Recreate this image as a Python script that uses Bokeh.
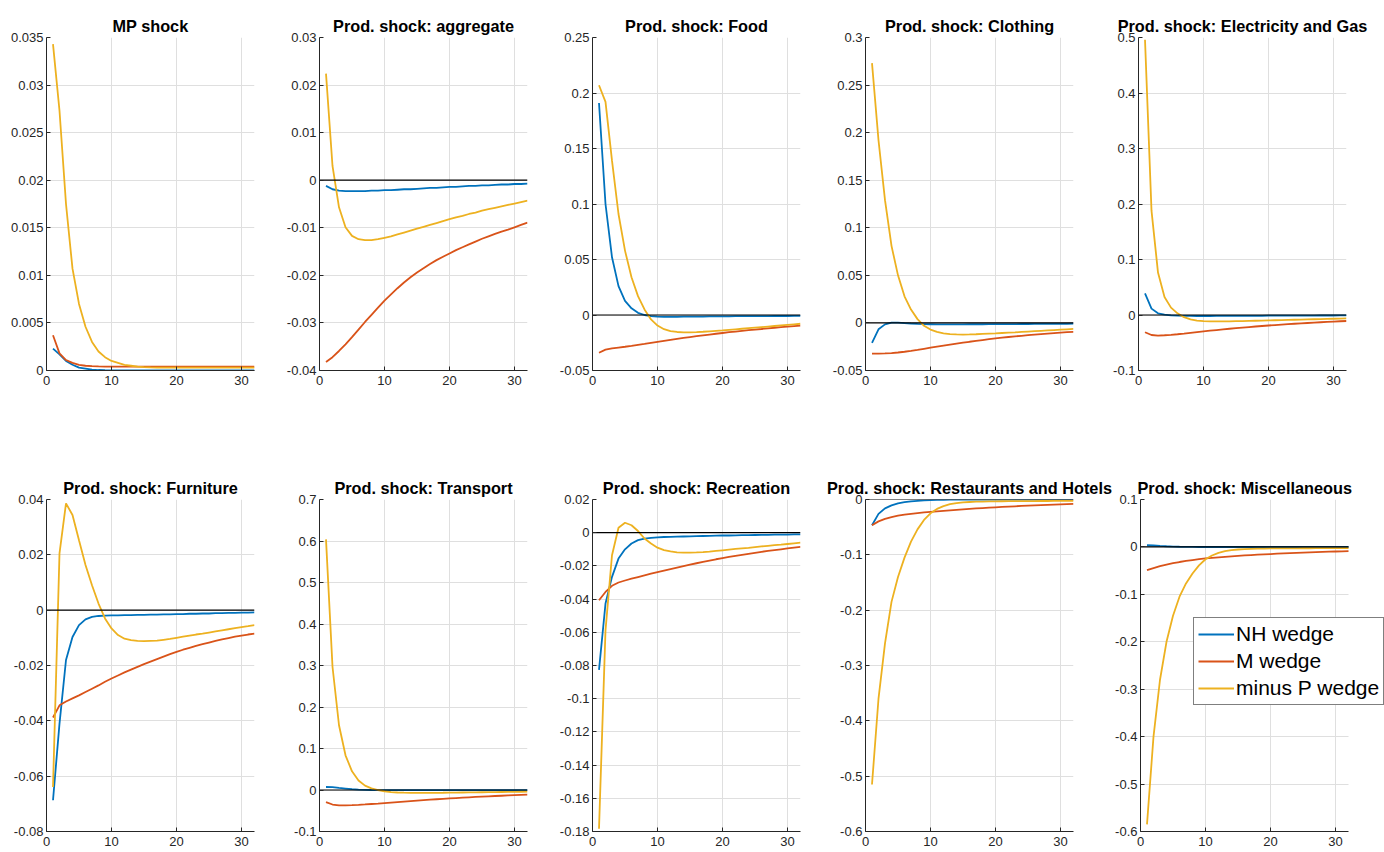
from bokeh.plotting import figure
from bokeh.layouts import column, row
from bokeh.models import (Range1d, FixedTicker, CustomJSTickFormatter,
                          Legend, LegendItem)
from bokeh.embed import file_html
from bokeh.resources import INLINE

# ---------------- data ----------------
periods = list(range(1, 33))
x_limits = [0, 32]
x_ticks = [0, 10, 20, 30]
series_names = ["NH wedge", "M wedge", "minus P wedge"]
titles = ["MP shock", "Prod. shock: aggregate", "Prod. shock: Food",
          "Prod. shock: Clothing", "Prod. shock: Electricity and Gas",
          "Prod. shock: Furniture", "Prod. shock: Transport",
          "Prod. shock: Recreation", "Prod. shock: Restaurants and Hotels",
          "Prod. shock: Miscellaneous"]

y_limits = [(0, 0.035), (-0.04, 0.03), (-0.05, 0.25), (-0.05, 0.3), (-0.1, 0.5),
            (-0.08, 0.04), (-0.1, 0.7), (-0.18, 0.02), (-0.6, 0.0), (-0.6, 0.1)]
y_ticks = [
    [0, 0.005, 0.01, 0.015, 0.02, 0.025, 0.03, 0.035],
    [-0.04, -0.03, -0.02, -0.01, 0, 0.01, 0.02, 0.03],
    [-0.05, 0, 0.05, 0.1, 0.15, 0.2, 0.25],
    [-0.05, 0, 0.05, 0.1, 0.15, 0.2, 0.25, 0.3],
    [-0.1, 0, 0.1, 0.2, 0.3, 0.4, 0.5],
    [-0.08, -0.06, -0.04, -0.02, 0, 0.02, 0.04],
    [-0.1, 0, 0.1, 0.2, 0.3, 0.4, 0.5, 0.6, 0.7],
    [-0.18, -0.16, -0.14, -0.12, -0.1, -0.08, -0.06, -0.04, -0.02, 0, 0.02],
    [-0.6, -0.5, -0.4, -0.3, -0.2, -0.1, 0],
    [-0.6, -0.5, -0.4, -0.3, -0.2, -0.1, 0, 0.1],
]

# MP shock
nh_mp = [0.0023, 0.0017, 0.0010, 0.0006, 0.0003, 0.0002, 0.0001, 0.00005,
         0.00003, 0.00002, 0.00001, 0.0, 0.0, 0.0, 0.0, 0.0,
         0.0, 0.0, 0.0, 0.0, 0.0, 0.0, 0.0, 0.0,
         0.0, 0.0, 0.0, 0.0, 0.0, 0.0, 0.0, 0.0]
m_mp = [0.0037, 0.0018, 0.0011, 0.0008, 0.0006, 0.0005, 0.00046, 0.00043,
        0.00041, 0.0004, 0.0004, 0.0004, 0.0004, 0.0004, 0.0004, 0.0004,
        0.0004, 0.0004, 0.0004, 0.0004, 0.0004, 0.0004, 0.0004, 0.0004,
        0.0004, 0.0004, 0.0004, 0.0004, 0.0004, 0.0004, 0.0004, 0.0004]
p_mp = [0.0343, 0.0273, 0.0175, 0.0107, 0.0070, 0.0046, 0.0030, 0.0020,
        0.0014, 0.0010, 0.0008, 0.0006, 0.0005, 0.0004, 0.00035, 0.00032,
        0.0003, 0.0003, 0.0003, 0.0003, 0.0003, 0.0003, 0.0003, 0.0003,
        0.0003, 0.0003, 0.0003, 0.0003, 0.0003, 0.0003, 0.0003, 0.0003]

# aggregate
nh_agg = [-0.0012, -0.0019, -0.0022, -0.0023, -0.0023, -0.0023, -0.0023, -0.0022,
          -0.0022, -0.0021, -0.0021, -0.0020, -0.0019, -0.0019, -0.0018, -0.0017,
          -0.0016, -0.0016, -0.0015, -0.0014, -0.0014, -0.0013, -0.0012, -0.0012,
          -0.0011, -0.0011, -0.0010, -0.0009, -0.0009, -0.0008, -0.0008, -0.0007]
m_agg = [-0.0382, -0.0372, -0.0359, -0.0345, -0.0330, -0.0314, -0.0298, -0.0283,
         -0.0268, -0.0253, -0.0240, -0.0227, -0.0215, -0.0204, -0.0194, -0.0185,
         -0.0176, -0.0168, -0.0161, -0.0154, -0.0147, -0.0141, -0.0135, -0.0129,
         -0.0123, -0.0118, -0.0113, -0.0108, -0.0104, -0.0099, -0.0094, -0.0089]
p_agg = [0.0224, 0.0030, -0.0057, -0.0099, -0.0117, -0.0124, -0.0126, -0.0126,
         -0.0124, -0.0121, -0.0118, -0.0114, -0.0110, -0.0106, -0.0102, -0.0098,
         -0.0094, -0.0090, -0.0086, -0.0082, -0.0078, -0.0075, -0.0071, -0.0068,
         -0.0064, -0.0061, -0.0058, -0.0055, -0.0052, -0.0049, -0.0046, -0.0043]

# Food
nh_food = [0.191, 0.100, 0.052, 0.026, 0.0127, 0.006, 0.002, 0.0,
           -0.001, -0.0015, -0.0016, -0.0016, -0.0016, -0.0015, -0.0015, -0.0014,
           -0.0014, -0.0013, -0.0013, -0.0012, -0.0012, -0.0011, -0.0011, -0.0011,
           -0.0010, -0.0010, -0.0010, -0.0009, -0.0009, -0.0009, -0.0008, -0.0008]
m_food = [-0.0340, -0.0312, -0.0300, -0.0293, -0.0286, -0.0278, -0.0269, -0.0261,
          -0.0252, -0.0243, -0.0234, -0.0225, -0.0216, -0.0207, -0.0199, -0.0191,
          -0.0183, -0.0176, -0.0169, -0.0162, -0.0155, -0.0149, -0.0143, -0.0137,
          -0.0131, -0.0126, -0.0120, -0.0115, -0.0110, -0.0105, -0.0100, -0.0095]
p_food = [0.207, 0.192, 0.139, 0.091, 0.058, 0.034, 0.017, 0.005,
          -0.004, -0.0095, -0.0128, -0.0145, -0.0153, -0.0156, -0.0156, -0.0154,
          -0.0151, -0.0147, -0.0143, -0.0139, -0.0134, -0.0129, -0.0124, -0.0119,
          -0.0114, -0.0109, -0.0104, -0.0099, -0.0094, -0.0089, -0.0084, -0.0079]

# Clothing
nh_cloth = [-0.021, -0.0067, -0.0015, 0.0004, 0.0003, -0.0003, -0.0008, -0.0011,
            -0.0013, -0.0014, -0.0015, -0.0015, -0.0015, -0.0015, -0.0015, -0.0014,
            -0.0014, -0.0014, -0.0013, -0.0013, -0.0012, -0.0012, -0.0012, -0.0011,
            -0.0011, -0.0010, -0.0010, -0.0010, -0.0009, -0.0009, -0.0009, -0.0008]
m_cloth = [-0.0323, -0.0323, -0.0321, -0.0317, -0.0311, -0.0303, -0.0294, -0.0284,
           -0.0272, -0.0260, -0.0248, -0.0238, -0.0228, -0.0218, -0.0208, -0.0198,
           -0.0189, -0.0180, -0.0171, -0.0162, -0.0155, -0.0148, -0.0141, -0.0135,
           -0.0129, -0.0123, -0.0117, -0.0112, -0.0107, -0.0102, -0.0097, -0.0093]
p_cloth = [0.273, 0.192, 0.129, 0.081, 0.050, 0.028, 0.014, 0.004,
           -0.003, -0.007, -0.0095, -0.0110, -0.0118, -0.0121, -0.0122, -0.0121,
           -0.0119, -0.0116, -0.0113, -0.0110, -0.0106, -0.0102, -0.0099, -0.0095,
           -0.0091, -0.0087, -0.0083, -0.0079, -0.0075, -0.0071, -0.0067, -0.0063]

# Electricity and Gas
nh_elec = [0.039, 0.0115, 0.003, 0.0005, -0.0008, -0.0013, -0.0016, -0.0017,
           -0.0018, -0.0018, -0.0018, -0.0017, -0.0017, -0.0016, -0.0016, -0.0015,
           -0.0015, -0.0014, -0.0014, -0.0013, -0.0013, -0.0012, -0.0012, -0.0011,
           -0.0011, -0.0010, -0.0010, -0.0009, -0.0009, -0.0009, -0.0008, -0.0008]
m_elec = [-0.0310, -0.0360, -0.0370, -0.0365, -0.0357, -0.0347, -0.0335, -0.0322,
          -0.0309, -0.0296, -0.0283, -0.0271, -0.0259, -0.0248, -0.0237, -0.0227,
          -0.0217, -0.0207, -0.0198, -0.0189, -0.0181, -0.0173, -0.0165, -0.0158,
          -0.0151, -0.0144, -0.0137, -0.0131, -0.0125, -0.0119, -0.0113, -0.0108]
p_elec = [0.496, 0.188, 0.0765, 0.0325, 0.0133, 0.003, -0.004, -0.0080,
          -0.0100, -0.0110, -0.0115, -0.0116, -0.0115, -0.0114, -0.0112, -0.0110,
          -0.0107, -0.0104, -0.0101, -0.0098, -0.0095, -0.0092, -0.0089, -0.0086,
          -0.0083, -0.0080, -0.0077, -0.0074, -0.0071, -0.0068, -0.0065, -0.0062]

# Furniture
nh_furn = [-0.0687, -0.0410, -0.0180, -0.0097, -0.0054, -0.0033, -0.0024, -0.0021,
           -0.0020, -0.0019, -0.0019, -0.0018, -0.0018, -0.0017, -0.0017, -0.0016,
           -0.0016, -0.0015, -0.0015, -0.0014, -0.0014, -0.0013, -0.0013, -0.0012,
           -0.0012, -0.0011, -0.0011, -0.0010, -0.0010, -0.0009, -0.0009, -0.0008]
m_furn = [-0.0388, -0.0344, -0.0330, -0.0319, -0.0308, -0.0296, -0.0284, -0.0272,
          -0.0259, -0.0247, -0.0236, -0.0225, -0.0215, -0.0205, -0.0195, -0.0186,
          -0.0177, -0.0168, -0.0159, -0.0151, -0.0143, -0.0136, -0.0129, -0.0123,
          -0.0117, -0.0111, -0.0106, -0.0101, -0.0096, -0.0092, -0.0088, -0.0085]
p_furn = [-0.0639, 0.0205, 0.0386, 0.0344, 0.0253, 0.0163, 0.0090, 0.0024,
          -0.0030, -0.0066, -0.0090, -0.0103, -0.0108, -0.0111, -0.0112, -0.0111,
          -0.0110, -0.0107, -0.0104, -0.0100, -0.0096, -0.0092, -0.0088, -0.0085,
          -0.0081, -0.0077, -0.0073, -0.0069, -0.0065, -0.0061, -0.0058, -0.0054]

# Transport
nh_trans = [0.0072, 0.0068, 0.0050, 0.0035, 0.0020, 0.0010, 0.0004, 0.0,
            -0.0003, -0.0004, -0.0005, -0.0005, -0.0005, -0.0005, -0.0005, -0.0005,
            -0.0004, -0.0004, -0.0004, -0.0004, -0.0004, -0.0004, -0.0003, -0.0003,
            -0.0003, -0.0003, -0.0003, -0.0003, -0.0003, -0.0003, -0.0003, -0.0003]
m_trans = [-0.0290, -0.0350, -0.0370, -0.0372, -0.0366, -0.0358, -0.0348, -0.0337,
           -0.0326, -0.0314, -0.0302, -0.0290, -0.0278, -0.0266, -0.0255, -0.0244,
           -0.0233, -0.0223, -0.0213, -0.0203, -0.0194, -0.0185, -0.0176, -0.0168,
           -0.0160, -0.0152, -0.0145, -0.0138, -0.0131, -0.0124, -0.0118, -0.0112]
p_trans = [0.604, 0.297, 0.156, 0.0836, 0.045, 0.023, 0.0105, 0.004,
           0.0, -0.0030, -0.0050, -0.0060, -0.0065, -0.0068, -0.0069, -0.0069,
           -0.0068, -0.0067, -0.0066, -0.0064, -0.0062, -0.0060, -0.0058, -0.0056,
           -0.0054, -0.0052, -0.0050, -0.0048, -0.0046, -0.0044, -0.0042, -0.0040]

# Recreation
nh_rec = [-0.0826, -0.0427, -0.0266, -0.0156, -0.0100, -0.0065, -0.0045, -0.0036,
          -0.0031, -0.0028, -0.0026, -0.0025, -0.0024, -0.0023, -0.0022, -0.0021,
          -0.0020, -0.0019, -0.0018, -0.0017, -0.0017, -0.0016, -0.0015, -0.0015,
          -0.0014, -0.0013, -0.0013, -0.0012, -0.0011, -0.0011, -0.0010, -0.0010]
m_rec = [-0.0407, -0.0357, -0.0320, -0.0300, -0.0288, -0.0277, -0.0267, -0.0257,
         -0.0247, -0.0237, -0.0228, -0.0219, -0.0210, -0.0201, -0.0192, -0.0184,
         -0.0176, -0.0168, -0.0160, -0.0153, -0.0146, -0.0139, -0.0133, -0.0127,
         -0.0121, -0.0115, -0.0110, -0.0105, -0.0100, -0.0095, -0.0090, -0.0085]
p_rec = [-0.1784, -0.0588, -0.0136, 0.0030, 0.0060, 0.0045, 0.0010, -0.0035,
         -0.0065, -0.0090, -0.0105, -0.0113, -0.0118, -0.0120, -0.0120, -0.0119,
         -0.0117, -0.0114, -0.0110, -0.0106, -0.0102, -0.0098, -0.0094, -0.0091,
         -0.0087, -0.0083, -0.0079, -0.0075, -0.0072, -0.0068, -0.0064, -0.0060]

# Restaurants and Hotels
nh_rest = [-0.0465, -0.0260, -0.0160, -0.0105, -0.0070, -0.0048, -0.0033, -0.0023,
           -0.0016, -0.0011, -0.0008, -0.0006, -0.0004, -0.0003, -0.0003, -0.0002,
           -0.0002, -0.0002, -0.0001, -0.0001, -0.0001, -0.0001, -0.0001, -0.0001,
           -0.0001, -0.0001, -0.0001, -0.0001, -0.0001, -0.0001, -0.0001, -0.0001]
m_rest = [-0.0465, -0.0395, -0.0350, -0.0318, -0.0293, -0.0274, -0.0258, -0.0245,
          -0.0234, -0.0224, -0.0214, -0.0205, -0.0196, -0.0187, -0.0178, -0.0170,
          -0.0162, -0.0155, -0.0148, -0.0141, -0.0135, -0.0129, -0.0123, -0.0117,
          -0.0112, -0.0107, -0.0102, -0.0097, -0.0092, -0.0088, -0.0084, -0.0080]
p_rest = [-0.515, -0.360, -0.260, -0.185, -0.140, -0.105, -0.076, -0.054,
          -0.037, -0.025, -0.017, -0.012, -0.0085, -0.0065, -0.0052, -0.0045,
          -0.0040, -0.0037, -0.0035, -0.0033, -0.0032, -0.0031, -0.0030, -0.0029,
          -0.0028, -0.0028, -0.0027, -0.0027, -0.0026, -0.0026, -0.0025, -0.0025]

# Miscellaneous
nh_misc = [0.0035, 0.0030, 0.0021, 0.0014, 0.0008, 0.0004, 0.0001, 0.0,
           -0.0001, -0.0001, -0.0001, -0.0001, -0.0001, -0.0001, -0.0001, -0.0001,
           -0.0001, -0.0001, -0.0001, -0.0001, -0.0001, -0.0001, -0.0001, -0.0001,
           -0.0001, -0.0001, -0.0001, -0.0001, -0.0001, -0.0001, -0.0001, -0.0001]
m_misc = [-0.0490, -0.0445, -0.0405, -0.0372, -0.0343, -0.0318, -0.0296, -0.0276,
          -0.0258, -0.0242, -0.0230, -0.0219, -0.0208, -0.0198, -0.0189, -0.0180,
          -0.0172, -0.0164, -0.0157, -0.0150, -0.0143, -0.0137, -0.0131, -0.0125,
          -0.0120, -0.0115, -0.0110, -0.0105, -0.0100, -0.0096, -0.0092, -0.0088]
p_misc = [-0.585, -0.400, -0.280, -0.200, -0.145, -0.105, -0.077, -0.056,
          -0.039, -0.026, -0.018, -0.0125, -0.0090, -0.0068, -0.0054, -0.0045,
          -0.0040, -0.0036, -0.0034, -0.0032, -0.0031, -0.0030, -0.0029, -0.0029,
          -0.0028, -0.0028, -0.0027, -0.0027, -0.0026, -0.0026, -0.0025, -0.0025]

panel_series = [
    (nh_mp, m_mp, p_mp), (nh_agg, m_agg, p_agg), (nh_food, m_food, p_food),
    (nh_cloth, m_cloth, p_cloth), (nh_elec, m_elec, p_elec),
    (nh_furn, m_furn, p_furn), (nh_trans, m_trans, p_trans),
    (nh_rec, m_rec, p_rec), (nh_rest, m_rest, p_rest), (nh_misc, m_misc, p_misc),
]

# ---------------- styling / layout ----------------
COLORS = ["#0072BD", "#D95319", "#EDB120"]
FONT = "Liberation Sans"
AX = "#262626"
FRAME_W = 208
# (left border, right border) per panel
borders_lr = [(46, 19), (46, 19), (46, 19), (46, 19), (46, 38),
              (46, 19), (46, 19), (46, 21), (44, 39), (26, 0)]
# the last panel gets a wider frame so that its legend can stick out past x=32
extra_w = [0] * 9 + [38]

fmt = CustomJSTickFormatter(code="return String(Math.round(tick*1e6)/1e6);")


def make_panel(i):
    top_row = i < 5
    bl, br = borders_lr[i]
    fw = FRAME_W + extra_w[i]
    x_end = x_limits[1] * fw / FRAME_W
    f = figure(frame_width=fw, frame_height=333 if top_row else 332,
               x_range=Range1d(x_limits[0], x_end), y_range=Range1d(*y_limits[i]),
               output_backend="svg", toolbar_location=None,
               min_border_left=bl, min_border_right=br,
               min_border_top=37 if top_row else 29,
               min_border_bottom=100 if top_row else 21,
               title=titles[i])
    f.title.text_font = FONT
    f.title.text_font_size = "16.3px"
    f.title.text_font_style = "bold"
    f.title.text_color = "black"
    if extra_w[i]:
        f.title.align = "left"
        f.title.offset = -3
    else:
        f.title.align = "center"
    f.title.standoff = 6
    f.outline_line_color = None
    f.background_fill_color = "white"
    f.border_fill_color = "white"

    f.xaxis.ticker = FixedTicker(ticks=x_ticks)
    f.yaxis.ticker = FixedTicker(ticks=y_ticks[i])
    f.xaxis.bounds = tuple(x_limits)
    for ax in (f.xaxis[0], f.yaxis[0]):
        ax.formatter = fmt
        ax.axis_line_color = AX
        ax.axis_line_width = 1
        ax.major_tick_line_color = AX
        ax.major_tick_in = 4
        ax.major_tick_out = 0
        ax.minor_tick_in = 0
        ax.minor_tick_out = 0
        ax.major_label_text_font = FONT
        ax.major_label_text_font_size = "13px"
        ax.major_label_text_color = AX
    f.yaxis.major_label_standoff = 3
    f.xaxis.major_label_standoff = 5
    for g in (f.xgrid[0], f.ygrid[0]):
        g.grid_line_color = "#dfdfdf"
        g.grid_line_width = 1
    f.ygrid[0].cross_bounds = tuple(x_limits)

    rs = []
    for vals, col in zip(panel_series[i], COLORS):
        rs.append(f.line(periods, vals, line_color=col, line_width=1.8))
    # zero reference line across the plotted horizon
    f.line(x_limits, [0, 0], line_color="black", line_width=1.2)
    return f, rs


figs = []
for i in range(10):
    f, rs = make_panel(i)
    if i == 9:
        leg = Legend(items=[LegendItem(label=n, renderers=[r])
                            for n, r in zip(series_names, rs)],
                     location=(53, 126))
        leg.label_text_font = FONT
        leg.label_text_font_size = "21px"
        leg.label_text_color = "black"
        leg.glyph_width = 36
        leg.glyph_height = 24
        leg.label_height = 24
        leg.label_standoff = 2
        leg.padding = 4
        leg.spacing = 3
        leg.margin = 0
        leg.border_line_color = "black"
        leg.border_line_width = 1
        leg.background_fill_color = "white"
        leg.background_fill_alpha = 1
        f.add_layout(leg)
    figs.append(f)

layout = column(row(*figs[:5]), row(*figs[5:]))

open("out.html", "w").write(file_html(layout, INLINE))
